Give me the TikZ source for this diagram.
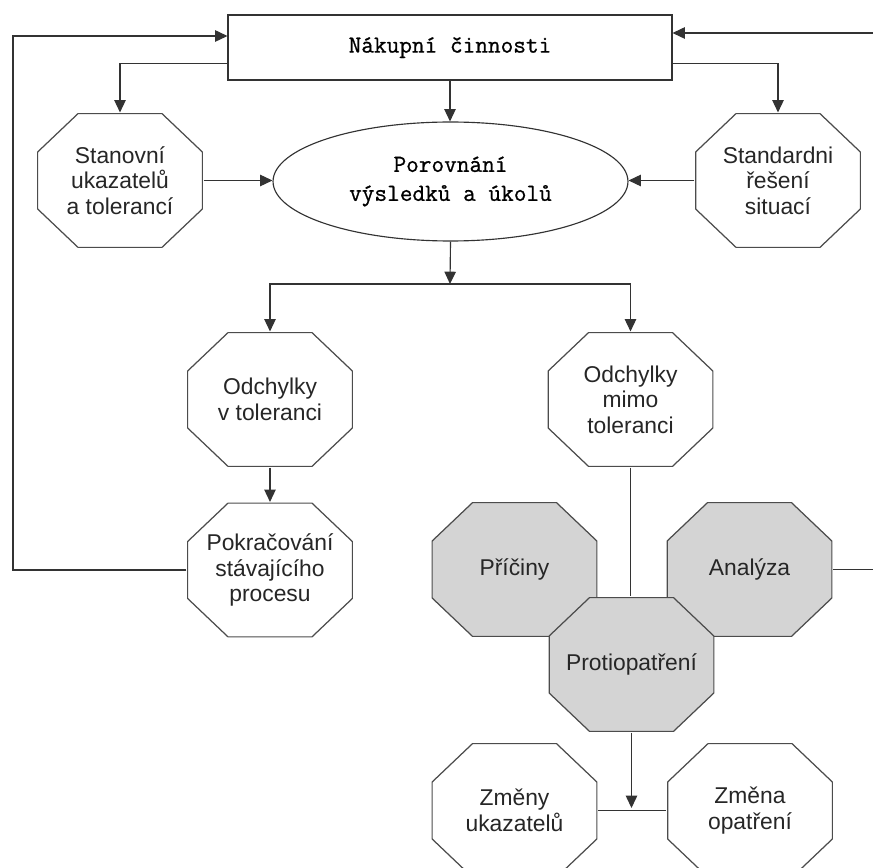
\documentclass[tikz,border=0pt]{standalone}
\usepackage{fontspec}
\usepackage{tikz}
\usetikzlibrary{shapes.geometric,arrows.meta}
\newfontfamily\monofam[FakeBold=0.8]{Latin Modern Mono}
\newfontfamily\sansfam{Liberation Sans}
\def\ow{0.35pt}

\begin{document}
\begin{tikzpicture}[x=0.02cm,y=-0.02cm,
		line width=0.65pt,draw=black!80,
		>={Triangle[length=7pt,width=6.5pt]},
		oct/.style={rectangle,minimum width=3.32cm,minimum height=2.7cm,inner sep=0pt,
			align=center,font=\sansfam\fontsize{13}{14.5}\selectfont,text=black!85,
			path picture={\path[draw=black!70,line width=0.7pt,fill=#1]
				([shift={(0.82cm,-\ow)}]path picture bounding box.north west)
				--([shift={(-0.82cm,-\ow)}]path picture bounding box.north east)
				--([shift={(-\ow,-0.78cm)}]path picture bounding box.north east)
				--([shift={(-\ow,0.78cm)}]path picture bounding box.south east)
				--([shift={(-0.82cm,\ow)}]path picture bounding box.south east)
				--([shift={(0.82cm,\ow)}]path picture bounding box.south west)
				--([shift={(\ow,0.78cm)}]path picture bounding box.south west)
				--([shift={(\ow,-0.78cm)}]path picture bounding box.north west)--cycle;}},
		oct/.default=white,
		grayoct/.style={oct=black!17},
		serif/.style={font=\monofam\fontsize{14}{16.5}\selectfont,text=black}]
			\useasboundingbox (0,0) rectangle (873,868);
			\node[draw,serif,minimum width=8.88cm,minimum height=1.3cm](top)at(450,47.5){Nákupní činnosti};
			\node[draw,ellipse,serif,align=center,minimum width=7.1cm,minimum height=2.38cm,inner sep=0pt](cmp)at(450.5,181.5){Porovnání\\výsledků a úkolů};
			\node[oct](stan)at(120,180.5){Stanovní\\ukazatelů\\a tolerancí};
			\node[oct](std)at(778,180.5){Standardni\\řešení\\situací};
			\node[oct](tol)at(270,399.5){Odchylky\\v toleranci};
			\node[oct](mimo)at(630.5,399.5){Odchylky\\mimo\\toleranci};
			\node[oct](pok)at(270,570){Pokračování\\stávajícího\\procesu};
			\node[grayoct](pric)at(514.5,569.5){Příčiny};
			\node[grayoct](ana)at(749.5,569.5){Analýza};
			\node[grayoct](prot)at(631.5,664.5){Protiopatření};
			\node[oct](zm1)at(514.5,810.5){Změny\\ukazatelů};
			\node[oct](zm2)at(750,810.5){Změna\\opatření};
			\coordinate(split)at(450,284);
			\coordinate(lloop)at(13,36);
			\coordinate(rloop)at(885,33);
			\coordinate(join)at(631.5,808);
			% from the top box
			\draw[->](top.south)--(top.south|-cmp.north);
			\draw[->]([yshift=0.34cm]top.south west)-|(stan.north);
			\draw[->]([yshift=0.34cm]top.south east)-|(std.north);
			\draw[->](stan.east)--(stan.east-|cmp.west);
			\draw[->](std.west)--(std.west-|cmp.east);
			% split of deviations
			\draw[->](cmp.south)--(split);
			\draw[->](split)-|(tol.north);
			\draw[->](split)-|(mimo.north);
			\draw[->](tol.south)--(pok.north);
			\draw[->](pok.west)-|(lloop)--(lloop-|top.west);
			\draw(mimo.south)--(mimo.south|-prot.north);
			\draw[->](ana.east)-|(rloop)--(rloop-|top.east);
			\draw[->](prot.south)--(join);
			\draw(zm1.east)--(zm1.east-|zm2.west);
		\end{tikzpicture}
\end{document}
